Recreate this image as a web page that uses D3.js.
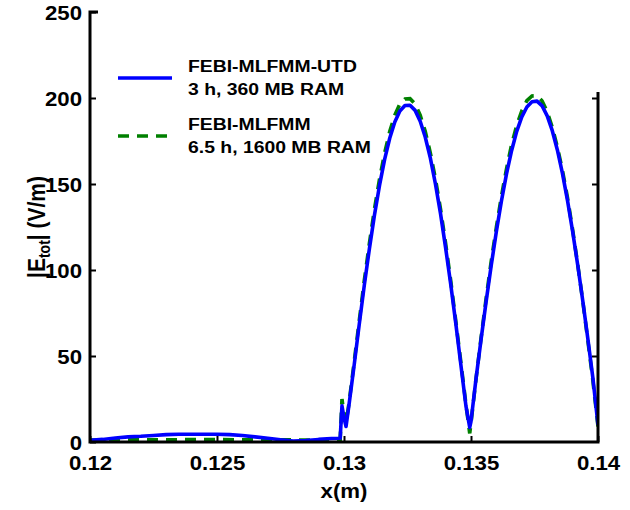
<!DOCTYPE html>
<html>
<head>
<meta charset="utf-8">
<script src="https://cdn.jsdelivr.net/npm/d3@7"></script>
<style>
  html, body { margin: 0; padding: 0; background: #fff; }
  svg { display: block; }
  text { font-family: "Liberation Sans", Arial, Helvetica, sans-serif; font-weight: bold; fill: #000; }
</style>
</head>
<body>
<svg id="chart" width="630" height="510"></svg>
<script>
// x positions (m) and |E_tot| (V/m) for the hybrid FEBI-MLFMM-UTD solution
const utdX = [0.1200, 0.1205, 0.1210, 0.1215, 0.1220, 0.1225, 0.1230, 0.1235, 0.1240, 0.1245,
  0.1250, 0.1255, 0.1260, 0.1265, 0.1270, 0.1275, 0.1280, 0.1285, 0.1290, 0.1295,
  0.12985, 0.12992, 0.13000, 0.13008, 0.1302, 0.1304, 0.1306, 0.1308, 0.1310, 0.1312,
  0.1314, 0.1316, 0.1318, 0.1320, 0.1322, 0.1324, 0.1326, 0.1328, 0.1330, 0.1332,
  0.1334, 0.1336, 0.1338, 0.1340, 0.1342, 0.1344, 0.1346, 0.1348, 0.13495, 0.1350,
  0.1352, 0.1354, 0.1356, 0.1358, 0.1360, 0.1362, 0.1364, 0.1366, 0.1368, 0.1370,
  0.1372, 0.1374, 0.1376, 0.1378, 0.1380, 0.1382, 0.1384, 0.1386, 0.1388, 0.1390,
  0.1392, 0.1394, 0.1396, 0.1398, 0.1400];
const utdE = [1.0, 1.5, 2.3, 3.0, 3.3, 3.8, 4.3, 4.5, 4.5, 4.5,
  4.5, 4.3, 3.8, 3.0, 2.2, 1.3, 0.6, 0.8, 1.5, 2.0,
  2.2, 21, 14, 9, 22, 44.7, 68.4, 91.2, 112.4, 132,
  149.3, 164.3, 176.6, 186, 192.4, 195.6, 195.8, 192.8, 186.5, 177.2,
  165, 150, 132.8, 113, 91.8, 69, 45, 21, 8.5, 12,
  37.1, 60, 82.1, 103, 122.5, 140.3, 156, 169.5, 180.6, 189,
  194.8, 197.8, 198.2, 195.4, 189.6, 181, 169.8, 156.2, 140.3, 122.5,
  103, 82.1, 60, 37.1, 10];

// reference full-wave FEBI-MLFMM solution
const refX = [0.1200, 0.1210, 0.1220, 0.1230, 0.1240, 0.1250, 0.1260, 0.1270, 0.1280, 0.1290,
  0.1295, 0.12985, 0.12992, 0.13000, 0.13008, 0.1302, 0.1304, 0.1306, 0.1308, 0.1310,
  0.1312, 0.1314, 0.1316, 0.1318, 0.1320, 0.1322, 0.1324, 0.1326, 0.1328, 0.1330,
  0.1332, 0.1334, 0.1336, 0.1338, 0.1340, 0.1342, 0.1344, 0.1346, 0.1348, 0.13495,
  0.1350, 0.1352, 0.1354, 0.1356, 0.1358, 0.1360, 0.1362, 0.1364, 0.1366, 0.1368,
  0.1370, 0.1372, 0.1374, 0.1376, 0.1378, 0.1380, 0.1382, 0.1384, 0.1386, 0.1388,
  0.1390, 0.1392, 0.1394, 0.1396, 0.1398, 0.1400];
const refE = [1.2, 1.2, 1.3, 1.3, 1.4, 1.4, 1.3, 1.3, 1.2, 1.2,
  1.3, 1.5, 25, 16, 11, 23, 46.5, 70.5, 94, 115.5,
  135.5, 153, 168, 180.5, 190, 196.5, 199.4, 199.6, 196.5, 190,
  180.5, 168, 153, 135.5, 115.5, 94, 70.5, 46.5, 22, 5,
  11, 37, 61, 84, 105.5, 125, 143, 159, 173, 184,
  192.5, 198.5, 201.2, 201.3, 198.3, 192, 183, 171.5, 158, 142,
  123.5, 103.5, 82, 59, 35.5, 9];

const xTicks = [0.12, 0.125, 0.13, 0.135, 0.14];
const yTicks = [0, 50, 100, 150, 200, 250];
const rightTicks = [50, 100, 150, 200];

const legendItems = [
  { line1: "FEBI-MLFMM-UTD", line2: "3 h, 360 MB RAM", color: "#0000ff", dash: null },
  { line1: "FEBI-MLFMM", line2: "6.5 h, 1600 MB RAM", color: "#008000", dash: "11,8" }
];

const svg = d3.select("#chart");
const plot = { left: 90, right: 598, top: 12, bottom: 442 };
const stretch = 1.14;   // glyphs are drawn wide

const x = d3.scaleLinear().domain([0.12, 0.14]).range([plot.left, plot.right]);
const y = d3.scaleLinear().domain([0, 250]).range([plot.bottom, plot.top]);

const line = d3.line().x(d => x(d[0])).y(d => y(d[1]));

svg.append("clipPath").attr("id", "plotclip")
  .append("rect")
  .attr("x", plot.left).attr("y", plot.top - 4)
  .attr("width", plot.right - plot.left).attr("height", plot.bottom - plot.top + 4);

// curves
const curves = svg.append("g").attr("clip-path", "url(#plotclip)");
curves.append("path")
  .datum(refX.map((v, i) => [v, refE[i]]))
  .attr("d", line)
  .attr("fill", "none")
  .attr("stroke", "#008000")
  .attr("stroke-width", 3.6)
  .attr("stroke-dasharray", "11,8");
curves.append("path")
  .datum(utdX.map((v, i) => [v, utdE[i]]))
  .attr("d", line)
  .attr("fill", "none")
  .attr("stroke", "#0000ff")
  .attr("stroke-width", 3.6)
  .attr("stroke-linejoin", "round");

// axes
const xAxis = svg.append("g")
  .attr("transform", `translate(0,${plot.bottom})`)
  .call(d3.axisBottom(x).tickValues(xTicks).tickFormat(d3.format("")).tickSizeInner(-6).tickSizeOuter(0).tickPadding(14));
const yAxis = svg.append("g")
  .attr("transform", `translate(${plot.left},0)`)
  .call(d3.axisLeft(y).tickValues(yTicks).tickFormat(d3.format("d")).tickSizeInner(-6).tickSizeOuter(0).tickPadding(7));
const rAxis = svg.append("g")
  .attr("transform", `translate(${plot.right},0)`)
  .call(d3.axisRight(y).tickValues(rightTicks).tickFormat("").tickSizeInner(-6).tickSizeOuter(0));

[xAxis, yAxis, rAxis].forEach(a => {
  a.select(".domain").remove();
  a.selectAll(".tick line").attr("stroke", "#000").attr("stroke-width", 2);
  a.selectAll(".tick text")
    .attr("font-size", 19.5)
    .attr("font-family", "Liberation Sans, Arial, sans-serif")
    .attr("font-weight", "bold")
    .attr("fill", "#000");
});
xAxis.selectAll(".tick text").attr("transform", `scale(${stretch},1)`);
yAxis.selectAll(".tick text").attr("transform", `scale(${stretch},1)`).attr("dy", "0.36em");

// left, bottom and right spines
svg.append("path")
  .attr("d", `M${plot.left + 8},${plot.top}H${plot.left}V${plot.bottom}H${plot.right}V${plot.top + 80}`)
  .attr("fill", "none").attr("stroke", "#000").attr("stroke-width", 3);

// axis titles
svg.append("text")
  .attr("transform", `translate(${(plot.left + plot.right) / 2},498) scale(${stretch},1)`)
  .attr("text-anchor", "middle")
  .attr("font-size", 19.5)
  .text("x(m)");

const yl = svg.append("text")
  .attr("transform", `translate(45,${(plot.top + plot.bottom) / 2}) rotate(-90) scale(1,${stretch})`)
  .attr("text-anchor", "middle")
  .attr("font-size", 21);
yl.append("tspan").text("|E");
yl.append("tspan").attr("font-size", 14).attr("dy", 4).text("tot");
yl.append("tspan").attr("dy", -4).text("| (V/m)");

// legend
const legend = svg.append("g");
legendItems.forEach((d, i) => {
  const g = legend.append("g").attr("transform", `translate(0,${i * 58})`);
  g.append("line")
    .attr("x1", 118).attr("x2", 172).attr("y1", 78).attr("y2", 78)
    .attr("stroke", d.color).attr("stroke-width", 3.6)
    .attr("stroke-dasharray", d.dash);
  g.append("text")
    .attr("transform", `translate(188,72) scale(${stretch},1)`)
    .attr("font-size", 17).text(d.line1);
  g.append("text")
    .attr("transform", `translate(188,95) scale(${stretch},1)`)
    .attr("font-size", 17).text(d.line2);
});
</script>
</body>
</html>
